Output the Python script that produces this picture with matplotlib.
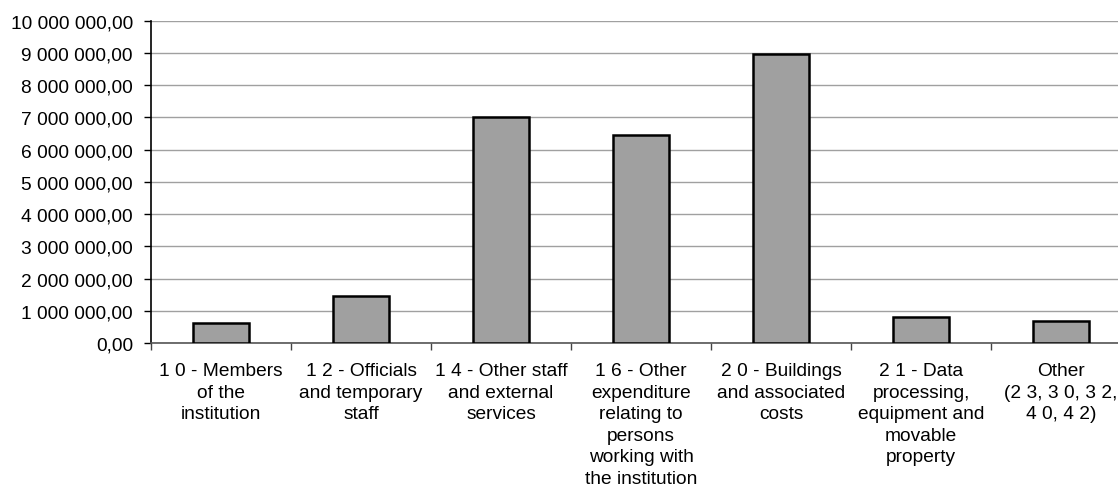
import matplotlib
matplotlib.use("Agg")
import matplotlib.pyplot as plt
from matplotlib.ticker import FuncFormatter, MultipleLocator

plt.rcParams['font.family'] = ['Liberation Sans', 'DejaVu Sans']

categories = [
    "1 0 - Members\nof the\ninstitution",
    "1 2 - Officials\nand temporary\nstaff",
    "1 4 - Other staff\nand external\nservices",
    "1 6 - Other\nexpenditure\nrelating to\npersons\nworking with\nthe institution",
    "2 0 - Buildings\nand associated\ncosts",
    "2 1 - Data\nprocessing,\nequipment and\nmovable\nproperty",
    "Other\n(2 3, 3 0, 3 2,\n4 0, 4 2)",
]
values = [620000, 1460000, 7020000, 6460000, 8970000, 810000, 680000]


def fmt(v, pos):
    s = f"{v:,.2f}"
    return s.replace(",", " ").replace(".", ",")


fig = plt.figure(figsize=(11.18, 4.89), dpi=100)
ax = fig.add_axes([151 / 1118, 1 - 344 / 489, 980 / 1118, 322.3 / 489])

x = list(range(len(categories)))
ax.bar(x, values, width=0.4, color="#a0a0a0", edgecolor="black", linewidth=1.8, zorder=3)

ax.set_xlim(-0.5, len(categories) - 0.5)
ax.set_ylim(0, 10000000)
ax.yaxis.set_major_locator(MultipleLocator(1000000))
ax.yaxis.set_major_formatter(FuncFormatter(fmt))
ax.grid(axis="y", color="#a0a0a0", linewidth=1.0, zorder=0)

ax.set_xticks([i + 0.5 for i in x[:-1]] + [-0.5])
ax.set_xticklabels([])
ax.set_xticks(x, minor=True)
ax.set_xticklabels(categories, minor=True, fontsize=13.8, linespacing=1.34)
ax.tick_params(axis="x", which="minor", length=0, pad=14)
ax.tick_params(axis="x", which="major", length=5, width=1, color="#444444", direction="out")
ax.tick_params(axis="y", length=5, width=1, labelsize=13.8, pad=8)

for s in ["top", "right"]:
    ax.spines[s].set_visible(False)
ax.spines["left"].set_color("black")
ax.spines["left"].set_linewidth(1.2)
ax.spines["bottom"].set_color("#555555")
ax.spines["bottom"].set_linewidth(1.2)

fig.savefig("out.png", dpi=100)
